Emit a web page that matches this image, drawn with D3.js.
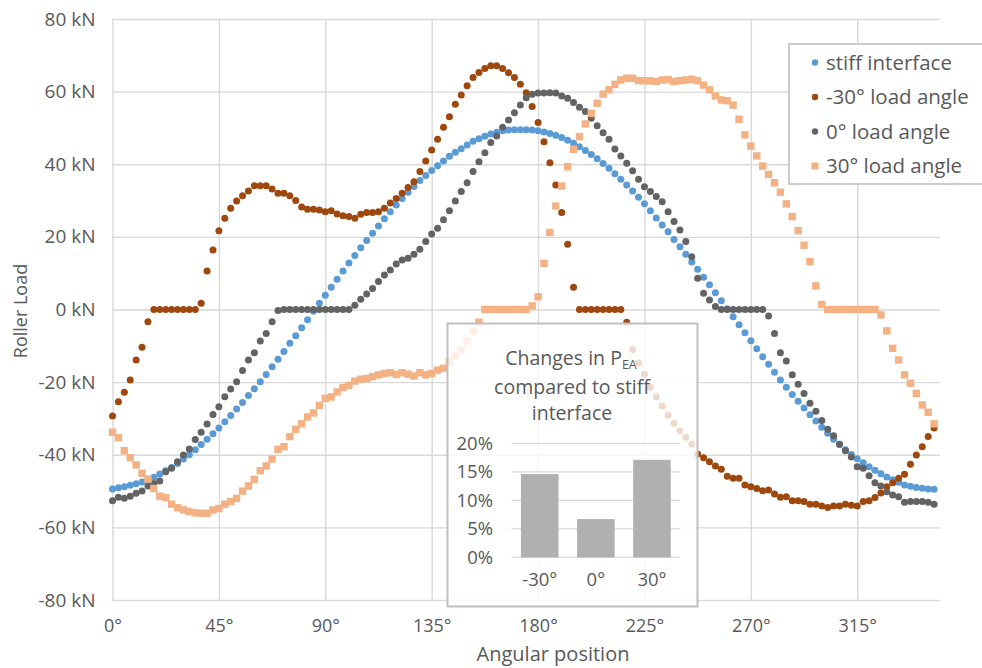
<!DOCTYPE html>
<html>
<head>
<meta charset="utf-8">
<script src="https://cdn.jsdelivr.net/npm/d3@7/dist/d3.min.js"></script>
<style>
  body { margin: 0; background: #fff; }
  text { font-family: "Open Sans", "Segoe UI", sans-serif; fill: #595959; }
</style>
</head>
<body>
<script>
// angular positions, 2.5 deg apart
var angles = d3.range(0, 350, 2.5);

var stiff = [-49.4,-49.1,-48.8,-48.4,-48.0,-47.5,-46.9,-46.2,-45.3,-44.4,
  -43.5,-42.4,-41.2,-40.0,-38.6,-37.2,-35.7,-34.2,-32.6,-30.9,
  -29.2,-27.4,-25.6,-23.7,-21.8,-19.9,-17.9,-15.8,-13.7,-11.6,
  -9.3,-7.2,-5.0,-2.8,-0.5,1.7,3.9,6.1,8.3,10.6,
  12.8,14.9,17.0,19.0,21.0,23.0,25.0,26.9,28.8,30.6,
  32.3,33.9,35.5,36.9,38.3,39.6,40.9,42.2,43.3,44.3,
  45.3,46.3,47.0,47.7,48.3,48.8,49.2,49.4,49.5,49.5,
  49.5,49.4,49.2,48.9,48.5,48.0,47.4,46.6,45.8,44.8,
  43.8,42.7,41.5,40.2,38.9,37.4,35.9,34.3,32.6,30.9,
  29.1,27.2,25.2,23.3,21.4,19.3,17.3,15.2,13.1,11.1,
  8.9,6.8,4.6,2.4,0.2,-2.0,-4.2,-6.4,-8.6,-10.8,
  -13.0,-15.1,-17.3,-19.4,-21.4,-23.4,-25.3,-27.1,-29.0,-30.7,
  -32.4,-34.1,-35.7,-37.2,-38.6,-39.9,-41.1,-42.2,-43.3,-44.3,
  -45.2,-46.1,-46.9,-47.6,-48.3,-48.7,-49.0,-49.2,-49.4,-49.5];

var loadM30 = [-29.3,-25.4,-22.8,-19.4,-13.9,-10.4,-3.4,0,0,0,
  0,0,0,0,0,1.7,10.6,16.4,21.7,25.1,
  27.9,29.9,31.3,32.6,34.1,34.1,34.1,33.2,32.0,32.0,
  31.3,30.0,28.2,27.6,27.6,27.4,26.9,27.2,26.3,25.8,
  25.6,25.1,26.2,26.7,26.7,26.9,27.9,29.3,30.6,32.0,
  33.6,35.2,38.0,40.9,43.9,46.9,50.2,53.1,56.5,59.1,
  61.6,63.9,65.3,66.4,67.1,67.1,66.4,65.2,63.9,62.0,
  59.7,55.9,51.5,46.2,40.4,34.3,26.7,18.0,6.1,0,
  0,0,0,0,0,0,0,-3.5,-11.0,-14.7,
  -17.8,-21.4,-24.0,-26.6,-29.1,-31.3,-33.4,-35.2,-37.1,-39.8,
  -40.8,-41.9,-43.1,-44.0,-45.9,-46.5,-46.5,-48.3,-48.8,-49.3,
  -49.9,-49.7,-50.8,-51.7,-51.6,-52.7,-52.7,-52.9,-53.6,-53.6,
  -54.1,-54.5,-54.1,-54.1,-53.6,-53.9,-54.1,-52.9,-52.7,-51.8,
  -50.5,-48.8,-47.7,-46.5,-45.4,-42.6,-40.1,-37.8,-35.0,-32.6];

var load0 = [-52.7,-51.7,-52.0,-51.4,-50.6,-50.0,-48.6,-47.9,-47.2,-44.7,
  -43.7,-41.9,-40.1,-38.4,-35.8,-33.8,-31.5,-28.9,-26.8,-24.0,
  -21.9,-19.9,-16.8,-13.9,-11.9,-8.7,-6.6,-3.4,-0.3,0,
  0,0,0,0,0,0,0,0,0,0,
  0,1.2,2.8,4.3,5.8,7.7,9.5,10.9,12.5,13.6,
  14.1,15.2,16.6,18.7,20.8,22.4,24.7,27.2,29.9,32.5,
  34.9,38.0,40.7,43.2,46.0,47.8,50.2,52.2,54.2,56.3,
  58.3,59.3,59.6,59.6,59.7,59.6,58.8,58.2,57.0,55.7,
  54.5,52.7,50.6,48.7,46.9,44.2,42.3,40.3,38.2,35.9,
  33.8,32.5,31.1,29.7,26.9,24.2,21.9,18.7,14.5,8.6,
  4.5,2.6,0.8,0,0,0,0,0,0,0,
  0,-1.8,-6.6,-11.9,-14.2,-18.0,-20.6,-23.1,-25.8,-28.0,
  -30.6,-33.0,-34.8,-37.1,-38.9,-40.6,-43.3,-43.7,-45.8,-47.7,
  -48.6,-50.2,-51.1,-51.6,-53.1,-52.9,-52.9,-52.9,-53.1,-53.6];

var loadP30 = [-33.8,-35.3,-38.9,-40.8,-42.8,-45.1,-46.7,-49.3,-51.4,-51.8,
  -53.6,-54.6,-55.2,-55.7,-56.0,-56.1,-56.1,-55.2,-54.8,-53.6,
  -52.9,-52.0,-50.0,-48.6,-46.8,-44.4,-43.1,-41.2,-38.5,-37.8,
  -35.0,-33.0,-31.5,-29.6,-28.5,-26.4,-24.5,-24.1,-22.7,-21.5,
  -20.9,-19.7,-19.2,-19.0,-18.5,-18.0,-17.6,-17.4,-17.9,-17.4,
  -17.8,-18.3,-17.4,-18.0,-17.6,-16.7,-16.2,-14.4,-12.8,-11.2,
  -8.8,-6.0,-3.5,0,0,0,0,0,0,0,
  0,1.0,3.5,12.7,21.2,28.5,34.0,39.3,44.1,47.6,
  51.1,54.0,56.8,59.3,60.5,62.0,63.2,63.7,63.7,63.0,
  63.0,63.0,62.8,63.2,63.3,62.8,63.0,63.2,63.4,63.0,
  61.8,60.5,58.8,57.7,57.5,56.3,52.4,48.1,45.0,42.3,
  39.5,37.2,34.9,32.3,29.1,25.6,21.7,17.7,13.2,6.5,
  1.4,0,0,0,0,0,0,0,0,0,
  -1.5,-5.9,-10.7,-13.9,-18.0,-20.3,-23.1,-26.3,-28.3,-31.5];

var seriesNames = ["stiff interface", "-30° load angle", "0° load angle", "30° load angle"];
var seriesColors = ["#5B9BD5", "#9E480E", "#636363", "#F4B183"];
var seriesShapes = ["circle", "circle", "circle", "square"];
var seriesData = [stiff, loadM30, load0, loadP30];

var xTicks = [0, 45, 90, 135, 180, 225, 270, 315];
var yTicks = [-80, -60, -40, -20, 0, 20, 40, 60, 80];

// inset bar chart: change in P_EA vs stiff interface
var insetCats = ["-30°", "0°", "30°"];
var insetValues = [14.6, 6.7, 17.1];
var insetTicks = [0, 5, 10, 15, 20];

var window_w = 982, window_h = 668;
var plot = {left: 112.5, top: 19, right: 940, bottom: 600};

var svg = d3.select("body").append("svg")
    .attr("width", window_w)
    .attr("height", window_h);

var xScale = d3.scaleLinear().domain([0, 350]).range([plot.left, plot.right]);
var yScale = d3.scaleLinear().domain([-80, 80]).range([plot.bottom, plot.top]);

// gridlines + tick labels
var yAxis = d3.axisLeft(yScale)
    .tickValues(yTicks)
    .tickSize(-(plot.right - plot.left))
    .tickPadding(17)
    .tickFormat(function(d) { return d + " kN"; });

var yAxisG = svg.append("g")
    .attr("transform", "translate(" + plot.left + ",0)")
    .call(yAxis);
yAxisG.select(".domain").remove();
yAxisG.selectAll("line").attr("stroke", "#d9d9d9").attr("stroke-width", 1.4);
yAxisG.selectAll("text").style("font-size", "19px").attr("fill", "#595959");

var xAxis = d3.axisBottom(xScale)
    .tickValues(xTicks)
    .tickSize(-(plot.bottom - plot.top))
    .tickPadding(19)
    .tickFormat(function(d) { return d + "°"; });

var xAxisG = svg.append("g")
    .attr("transform", "translate(0," + plot.bottom + ")")
    .call(xAxis);
xAxisG.select(".domain").remove();
xAxisG.selectAll("line").attr("stroke", "#d9d9d9").attr("stroke-width", 1.4);
xAxisG.selectAll("text").style("font-size", "18px").attr("fill", "#595959");

// axis titles
svg.append("text")
    .attr("x", 553)
    .attr("y", 661)
    .style("text-anchor", "middle")
    .style("font-size", "20px")
    .text("Angular position");

svg.append("text")
    .attr("transform", "translate(27,311) rotate(-90)")
    .style("text-anchor", "middle")
    .style("font-size", "18px")
    .text("Roller Load");

// series markers
seriesData.forEach(function(vals, k) {
    var pts = vals.map(function(v, i) { return {a: angles[i], v: v}; });
    var g = svg.append("g").attr("class", "series");
    if (seriesShapes[k] == "square") {
        g.selectAll("rect").data(pts).enter().append("rect")
            .attr("x", function(d) { return xScale(d.a) - 3.7; })
            .attr("y", function(d) { return yScale(d.v) - 3.7; })
            .attr("width", 7.4)
            .attr("height", 7.4)
            .attr("fill", seriesColors[k]);
    } else {
        g.selectAll("circle").data(pts).enter().append("circle")
            .attr("cx", function(d) { return xScale(d.a); })
            .attr("cy", function(d) { return yScale(d.v); })
            .attr("r", 3.5)
            .attr("fill", seriesColors[k]);
    }
});

// legend
var legend = svg.append("g");
legend.append("rect")
    .attr("x", 789).attr("y", 44)
    .attr("width", 200).attr("height", 140)
    .attr("fill", "#fff")
    .attr("stroke", "#bfbfbf")
    .attr("stroke-width", 1.6);

seriesNames.forEach(function(name, k) {
    var cy = 62.5 + k * 34.5;
    if (seriesShapes[k] == "square") {
        legend.append("rect")
            .attr("x", 811.5).attr("y", cy - 3.5)
            .attr("width", 7).attr("height", 7)
            .attr("fill", seriesColors[k]);
    } else {
        legend.append("circle")
            .attr("cx", 815).attr("cy", cy).attr("r", 3.2)
            .attr("fill", seriesColors[k]);
    }
    legend.append("text")
        .attr("x", 826).attr("y", cy + 7)
        .style("font-size", "20.5px")
        .text(name);
});

// inset chart
var inset = svg.append("g");
inset.append("rect")
    .attr("x", 447.5).attr("y", 323.5)
    .attr("width", 250).attr("height", 283)
    .attr("fill", "#fff")
    .attr("fill-opacity", 0.8)
    .attr("stroke", "#bfbfbf")
    .attr("stroke-width", 2);

var title = inset.append("text")
    .style("text-anchor", "middle")
    .style("font-size", "19.5px");
var t1 = title.append("tspan").attr("x", 571).attr("y", 365);
t1.append("tspan").text("Changes in P");
t1.append("tspan").attr("dy", 4).style("font-size", "12.5px").text("EA");
title.append("tspan").attr("x", 572).attr("y", 394).text("compared to stiff");
title.append("tspan").attr("x", 572).attr("y", 420).text("interface");

var xi = d3.scaleBand().domain(insetCats).range([511.7, 680])
    .paddingInner(0.33).paddingOuter(0.165);
var yi = d3.scaleLinear().domain([0, 20]).range([557.3, 443.3]);

inset.selectAll("line.grid").data(insetTicks).enter().append("line")
    .attr("class", "grid")
    .attr("x1", 511.7).attr("x2", 680)
    .attr("y1", function(d) { return yi(d); })
    .attr("y2", function(d) { return yi(d); })
    .attr("stroke", "#d9d9d9")
    .attr("stroke-width", 1.2);

inset.selectAll("text.ytick").data(insetTicks).enter().append("text")
    .attr("class", "ytick")
    .attr("x", 493)
    .attr("y", function(d) { return yi(d); })
    .attr("dy", "0.35em")
    .style("text-anchor", "end")
    .style("font-size", "18.5px")
    .text(function(d) { return d + "%"; });

inset.selectAll("rect.bar").data(insetValues).enter().append("rect")
    .attr("class", "bar")
    .attr("x", function(d, i) { return xi(insetCats[i]); })
    .attr("y", function(d) { return yi(d); })
    .attr("width", xi.bandwidth())
    .attr("height", function(d) { return yi(0) - yi(d); })
    .attr("fill", "#b0b0b0");

inset.selectAll("text.xtick").data(insetCats).enter().append("text")
    .attr("class", "xtick")
    .attr("x", function(d) { return xi(d) + xi.bandwidth() / 2; })
    .attr("y", 586)
    .style("text-anchor", "middle")
    .style("font-size", "18.5px")
    .text(function(d) { return d; });
</script>
</body>
</html>
